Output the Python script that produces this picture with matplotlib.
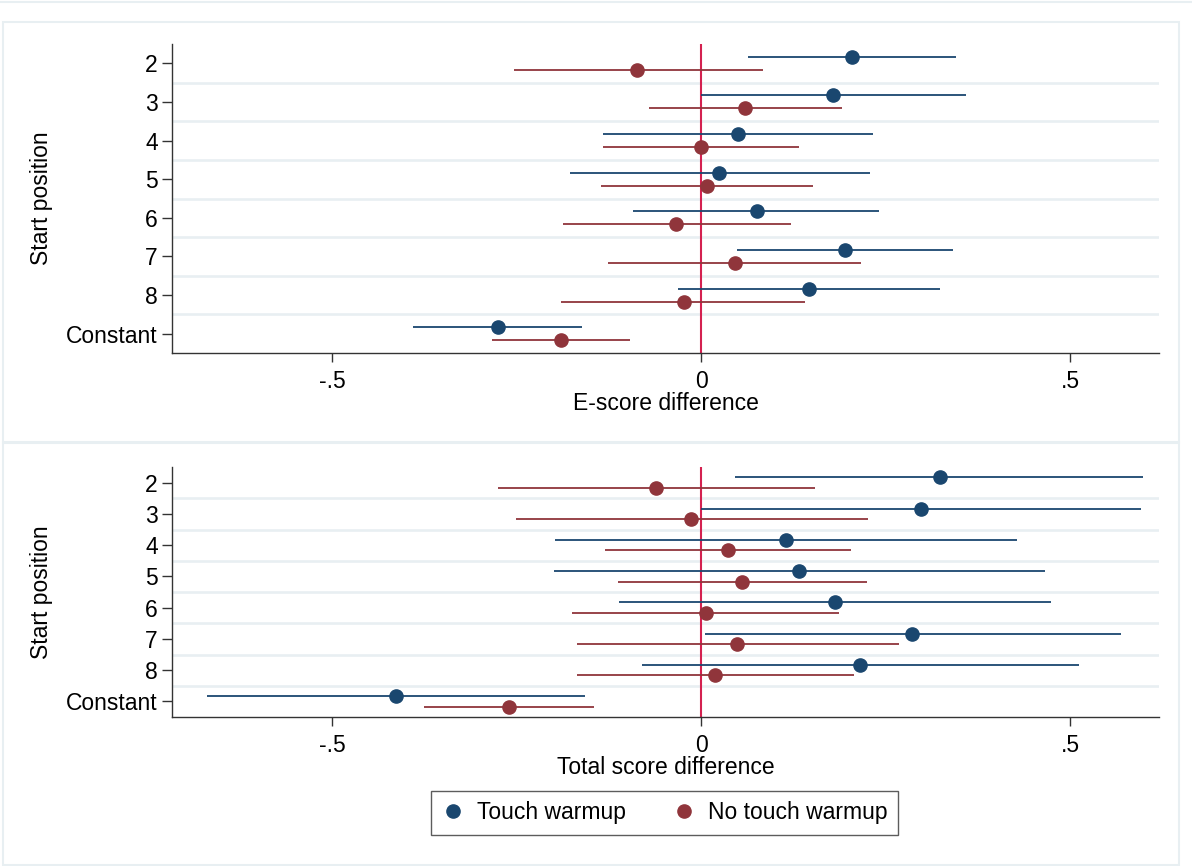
import matplotlib
matplotlib.use("Agg")
import matplotlib.pyplot as plt
from matplotlib.lines import Line2D
from matplotlib.patches import Rectangle

plt.rcParams['font.family'] = ['Liberation Sans', 'DejaVu Sans']

categories = ["2", "3", "4", "5", "6", "7", "8", "Constant"]
series_names = ["Touch warmup", "No touch warmup"]

# E-score difference panel
e_touch = [0.204, 0.179, 0.050, 0.024, 0.075, 0.195, 0.146, -0.276]
e_touch_lo = [0.063, 0.000, -0.133, -0.178, -0.092, 0.048, -0.031, -0.391]
e_touch_hi = [0.345, 0.358, 0.233, 0.228, 0.241, 0.341, 0.324, -0.161]
e_notouch = [-0.087, 0.059, 0.000, 0.008, -0.034, 0.045, -0.024, -0.190]
e_notouch_lo = [-0.254, -0.071, -0.133, -0.136, -0.187, -0.126, -0.190, -0.284]
e_notouch_hi = [0.083, 0.190, 0.133, 0.151, 0.121, 0.216, 0.141, -0.097]

# Total score difference panel
t_touch = [0.323, 0.298, 0.115, 0.132, 0.181, 0.286, 0.215, -0.413]
t_touch_lo = [0.046, 0.000, -0.198, -0.200, -0.112, 0.005, -0.081, -0.669]
t_touch_hi = [0.599, 0.596, 0.428, 0.465, 0.474, 0.569, 0.511, -0.157]
t_notouch = [-0.062, -0.014, 0.036, 0.055, 0.006, 0.049, 0.019, -0.261]
t_notouch_lo = [-0.276, -0.251, -0.130, -0.113, -0.175, -0.169, -0.168, -0.376]
t_notouch_hi = [0.154, 0.226, 0.203, 0.225, 0.187, 0.268, 0.207, -0.146]

x_ticks = [-0.5, 0, 0.5]
x_tick_labels = ["-.5", "0", ".5"]

BLUE = "#1a476f"
RED = "#90353b"
ZERO = "#d42150"
GRID = "#e8eff2"
BOX = "#e8eff2"
FS = 16.5

W, H = 1192, 866
fig = plt.figure(figsize=(W / 100, H / 100), dpi=100)
fig.patch.set_facecolor("white")

# light panel frames
fig.add_artist(Line2D([0, 1], [1 - 2 / H, 1 - 2 / H], color=BOX, lw=1.5, transform=fig.transFigure))
fig.add_artist(Rectangle((3 / W, 1 - 442 / H), (1179 - 3) / W, (442 - 22) / H, fill=False,
                         edgecolor=BOX, lw=1.5, transform=fig.transFigure))
fig.add_artist(Rectangle((3 / W, 1 - 865 / H), (1179 - 3) / W, (865 - 443) / H, fill=False,
                         edgecolor=BOX, lw=1.5, transform=fig.transFigure))

def panel(rect, xlabel, pts_a, lo_a, hi_a, pts_b, lo_b, hi_b, xlab_y):
    ax = fig.add_axes(rect)
    ypos = list(range(1, len(categories) + 1))
    off = 0.167
    for g in range(1, len(categories)):
        ax.axhline(g + 0.5, color=GRID, lw=1.9, zorder=0)
    ax.axvline(0, color=ZERO, lw=1.5, zorder=1)
    ya = [y - off for y in ypos]
    yb = [y + off for y in ypos]
    ax.hlines(ya, lo_a, hi_a, color=BLUE, lw=1.3, zorder=2)
    ax.hlines(yb, lo_b, hi_b, color=RED, lw=1.3, zorder=2)
    ax.plot(pts_a, ya, 'o', color=BLUE, ms=9.5, zorder=3, linestyle='none')
    ax.plot(pts_b, yb, 'o', color=RED, ms=9.5, zorder=3, linestyle='none')
    ax.set_xlim(-0.717, 0.620)
    ax.set_ylim(len(categories) + 0.5, 0.5)
    ax.set_yticks(ypos)
    ax.set_yticklabels(categories, fontsize=FS)
    ax.set_xticks(x_ticks)
    ax.set_xticklabels(x_tick_labels, fontsize=FS)
    ax.tick_params(axis='y', length=7.5, width=1.0, pad=2.8, color='#333333')
    ax.tick_params(axis='x', length=6.5, width=1.0, pad=5.4, color='#333333')
    for s in ['top', 'right']:
        ax.spines[s].set_visible(False)
    for s in ['left', 'bottom']:
        ax.spines[s].set_color('#333333')
        ax.spines[s].set_linewidth(1.0)
    ax.set_xlabel(xlabel, fontsize=FS, va='center')
    ax.xaxis.set_label_coords(0.5, xlab_y)
    ax.set_ylabel("Start position", fontsize=FS, va='center')
    ax.yaxis.set_label_coords(-0.1327, 0.5)
    return ax

left = 172 / W
width = (1159 - 172) / W
panel([left, 1 - 353 / H, width, (353 - 44) / H], "E-score difference",
      e_touch, e_touch_lo, e_touch_hi, e_notouch, e_notouch_lo, e_notouch_hi, -0.162)
panel([left, 1 - 717 / H, width, (717 - 467) / H], "Total score difference",
      t_touch, t_touch_lo, t_touch_hi, t_notouch, t_notouch_lo, t_notouch_hi, -0.204)

handles = [Line2D([], [], marker='o', color=BLUE, ms=9.5, linestyle='none'),
           Line2D([], [], marker='o', color=RED, ms=9.5, linestyle='none')]
leg = fig.legend(handles, series_names, loc='center', bbox_to_anchor=(664.5 / W, 1 - 813 / H),
                 ncol=2, fontsize=FS, frameon=True, fancybox=False, handlelength=1.0,
                 handletextpad=0.57, columnspacing=2.0, borderpad=0.45, borderaxespad=0)
leg.get_frame().set_edgecolor('#333333')
leg.get_frame().set_linewidth(1.0)

fig.savefig("out.png", dpi=100, facecolor="white")
